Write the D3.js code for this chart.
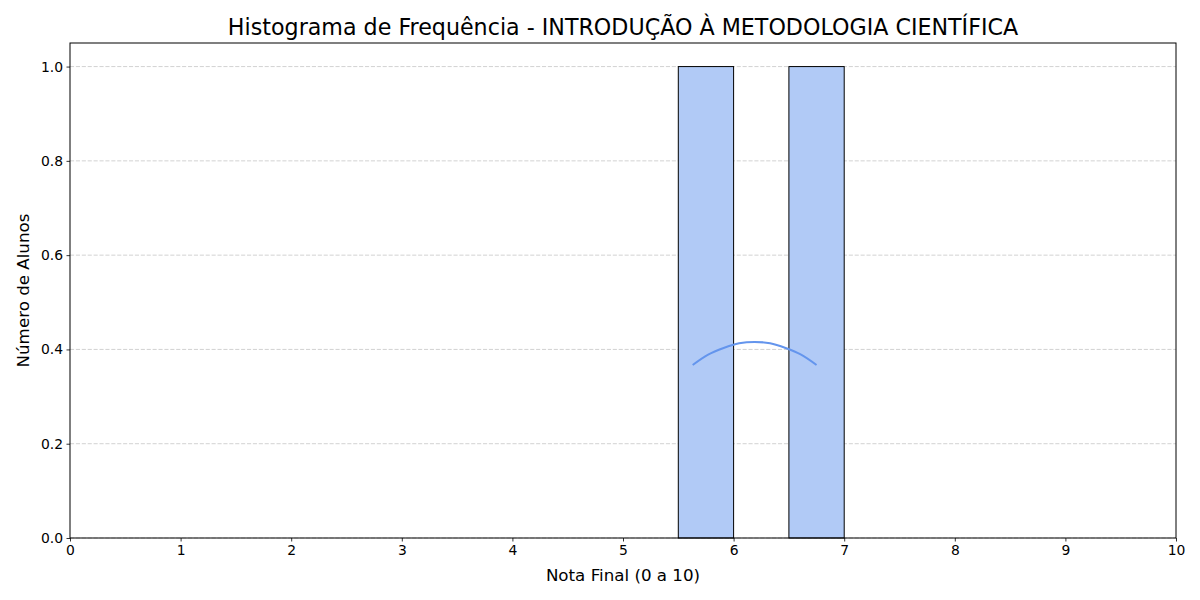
<!DOCTYPE html>
<html>
<head>
<meta charset="utf-8">
<script src="https://cdn.jsdelivr.net/npm/d3@7"></script>
<style>
  body { margin: 0; background: #fff; }
  svg { display: block; font-family: "DejaVu Sans", sans-serif; }
</style>
</head>
<body>
<svg id="chart" width="1200" height="600"></svg>
<script>
const titleText = "Histograma de Frequência - INTRODUÇÃO À METODOLOGIA CIENTÍFICA";
const xLabel = "Nota Final (0 a 10)";
const yLabel = "Número de Alunos";

// histogram bins (start, end) and counts
const binStarts = [5.5, 6.5];
const binEnds = [6.0, 7.0];
const binCounts = [1, 1];

// KDE curve
const kdeX = [5.63, 5.77, 5.91, 6.05, 6.19, 6.33, 6.47, 6.61, 6.75];
const kdeY = [0.367, 0.389, 0.403, 0.413, 0.416, 0.413, 0.403, 0.389, 0.367];

const xTicks = [0, 1, 2, 3, 4, 5, 6, 7, 8, 9, 10];
const yTicks = [0.0, 0.2, 0.4, 0.6, 0.8, 1.0];

const svg = d3.select("#chart");
const m = { left: 70, right: 1176, top: 43, bottom: 538 };

const x = d3.scaleLinear().domain([0, 10]).range([m.left, m.right]);
const y = d3.scaleLinear().domain([0, 1.05]).range([m.bottom, m.top]);

// grid
svg.append("g").selectAll("line").data(yTicks).join("line")
  .attr("x1", m.left).attr("x2", m.right)
  .attr("y1", d => y(d)).attr("y2", d => y(d))
  .attr("stroke", "#808080").attr("stroke-opacity", 0.45)
  .attr("stroke-width", 0.8).attr("stroke-dasharray", "4.1,1.8");

// bars
svg.append("g").selectAll("rect").data(binCounts).join("rect")
  .attr("x", (d, i) => x(binStarts[i]))
  .attr("width", (d, i) => x(binEnds[i]) - x(binStarts[i]))
  .attr("y", d => y(d))
  .attr("height", d => y(0) - y(d))
  .attr("fill", "#b1caf6")
  .attr("stroke", "#000").attr("stroke-width", 1);

// kde
const pts = kdeX.map((v, i) => [v, kdeY[i]]);
svg.append("path").datum(pts)
  .attr("d", d3.line().x(d => x(d[0])).y(d => y(d[1])).curve(d3.curveCatmullRom))
  .attr("fill", "none").attr("stroke", "#6495ED").attr("stroke-width", 2);

// axes
const xAxis = svg.append("g").attr("transform", `translate(0,${m.bottom})`)
  .call(d3.axisBottom(x).tickValues(xTicks).tickFormat(d3.format("d")).tickSize(3.5).tickPadding(3.5));
const yAxis = svg.append("g").attr("transform", `translate(${m.left},0)`)
  .call(d3.axisLeft(y).tickValues(yTicks).tickFormat(d3.format(".1f")).tickSize(3.5).tickPadding(3.5));
[xAxis, yAxis].forEach(a => {
  a.select(".domain").remove();
  a.selectAll("text").attr("font-size", "13.9px").attr("fill", "#000")
    .attr("font-family", "DejaVu Sans");
  a.selectAll("line").attr("stroke", "#000").attr("stroke-width", 0.8);
});

// frame
svg.append("rect").attr("x", m.left).attr("y", m.top)
  .attr("width", m.right - m.left).attr("height", m.bottom - m.top)
  .attr("fill", "none").attr("stroke", "#000").attr("stroke-width", 1);

// title and labels
svg.append("text").attr("x", (m.left + m.right) / 2).attr("y", 35)
  .attr("text-anchor", "middle").attr("font-size", "22.2px").text(titleText);
svg.append("text").attr("x", (m.left + m.right) / 2).attr("y", 581)
  .attr("text-anchor", "middle").attr("font-size", "16.7px").text(xLabel);
svg.append("text").attr("transform", `translate(29,${(m.top + m.bottom) / 2}) rotate(-90)`)
  .attr("text-anchor", "middle").attr("font-size", "16.7px").text(yLabel);
</script>
</body>
</html>
